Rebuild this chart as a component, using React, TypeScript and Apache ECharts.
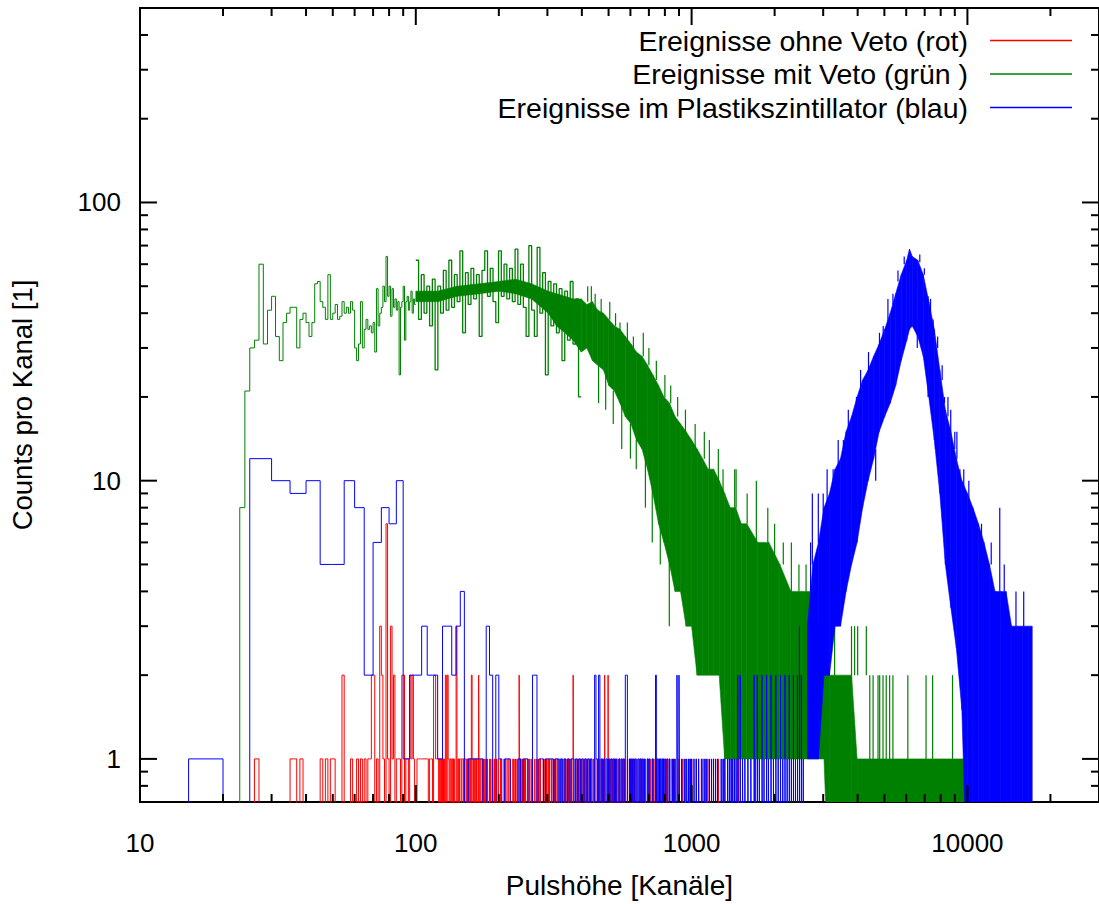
import React, { useEffect, useRef } from "react";
import * as echarts from "echarts";

const FONT = "'Liberation Sans', Arial, Helvetica, sans-serif";
const RED = "#ff0000";
const GREEN = "#008000";
const BLUE = "#0000ff";

const X_MIN = 10;
const X_MAX = 30000;
const Y_MIN = 0.7;
const Y_MAX = 500;
const BELOW = 0.3; // zero counts are drawn below the axis and clipped

const seriesNames = [
  "Ereignisse ohne Veto (rot)",
  "Ereignisse mit Veto (grün )",
  "Ereignisse im Plastikszintillator (blau)",
];
const xAxisTitle = "Pulshöhe [Kanäle]";
const yAxisTitle = "Counts pro Kanal [1]";

const xTickLabels = [10, 100, 1000, 10000];
const yTickLabels = [1, 10, 100];
const xMajorTicks = [10, 100, 1000, 10000];
const xMinorTicks = [20, 30, 40, 50, 60, 70, 80, 90, 200, 300, 400, 500, 600, 700, 800, 900, 2000, 3000, 4000, 5000, 6000, 7000, 8000, 9000, 20000];
const yMajorTicks = [1, 10, 100];
const yMinorTicks = [0.8, 0.9, 2, 3, 4, 5, 6, 7, 8, 9, 20, 30, 40, 50, 60, 70, 80, 90, 200, 300, 400];

// ---- red: events without veto, 1-channel bins: [channel, count] (empty channels omitted)
const redBins = [
  [26, 1], [35, 1], [36, 1], [38, 1], [45, 1], [47, 1], [49, 1], [50, 1], [54, 2], [58, 1], [61, 1], [63, 1], [65, 1], [67, 1], [68, 1],
  [69, 2], [70, 2], [72, 1], [74, 3], [75, 2], [76, 1], [78, 7], [79, 1], [81, 3], [82, 1], [83, 2], [85, 1], [86, 1], [87, 1], [89, 2],
  [90, 2], [92, 1], [93, 1], [95, 2], [96, 1], [97, 2], [98, 1], [101, 1], [102, 1], [103, 1], [104, 1], [105, 1], [106, 1], [107, 1],
  [108, 1], [109, 1], [110, 1], [112, 1], [113, 1], [114, 1], [116, 2], [117, 2], [118, 1], [119, 1], [120, 1], [122, 1], [124, 1],
  [126, 1], [128, 2], [130, 2], [131, 1], [133, 1], [135, 1], [137, 1], [140, 3], [142, 1], [144, 1], [145, 1], [147, 1], [148, 1],
  [150, 1], [151, 1], [153, 1], [155, 1], [157, 1], [159, 2], [160, 1], [162, 1], [164, 1], [166, 1], [167, 1], [169, 2], [171, 1],
  [174, 1], [176, 1], [178, 1], [180, 1], [182, 1], [185, 1], [187, 1], [190, 1], [193, 1], [196, 1], [199, 1], [203, 1], [209, 1],
  [212, 1], [216, 1], [220, 1], [225, 1], [227, 1], [230, 1], [233, 1], [237, 2], [240, 1], [243, 1], [245, 1], [248, 1], [250, 1],
  [255, 1], [258, 1], [262, 1], [265, 1], [270, 1], [275, 1], [278, 1], [283, 1], [290, 1], [294, 1], [298, 1], [302, 1], [305, 1],
  [310, 1], [315, 1], [318, 1], [322, 1], [327, 1], [332, 1], [338, 1], [345, 1], [350, 1], [358, 1], [362, 1], [367, 1], [372, 2],
  [380, 1], [385, 1], [390, 1], [395, 1], [400, 1], [408, 1], [414, 1], [420, 1], [426, 1], [431, 1], [440, 1], [446, 1], [455, 1],
  [462, 1], [470, 1], [478, 1], [484, 2], [498, 2], [505, 1], [510, 1], [518, 1], [525, 1], [532, 1], [541, 1], [548, 1], [560, 1],
  [570, 1], [585, 1], [595, 1], [602, 1], [610, 1], [620, 1], [635, 1], [650, 1], [660, 1], [680, 1], [695, 1], [707, 1], [720, 1],
  [730, 1], [745, 1], [766, 1], [790, 1], [810, 1], [830, 1], [852, 1], [870, 1], [900, 1], [924, 1], [950, 1], [980, 1], [1001, 1],
  [1040, 1], [1060, 1], [1085, 1], [1120, 1], [1145, 1], [1200, 1], [1250, 1], [1309, 1], [1400, 1], [1480, 1],
];

// ---- green: events with veto
const greenFirstChannel = 23; // single channels 23..99
const greenCounts = [8, 21, 30, 32, 60, 31, 41, 46, 33, 27, 37, 40, 42, 42, 30, 38, 40, 37, 33, 37, 51, 52, 44, 42, 38, 55, 38, 40, 43, 38, 39, 44, 40, 42, 40, 44, 41, 30, 27, 31, 44, 30, 35, 38, 35, 36, 34, 37, 29, 49, 36, 40, 42, 50, 44, 64, 46, 50, 39, 49, 42, 45, 41, 44, 24, 42, 44, 50, 32, 44, 46, 41, 44, 48, 40, 45, 43];
// channels 100..398: counts read every 0.01 decade
const greenMidStart = 100;
const greenMidStepDecades = 0.01;
const greenMidCounts = [62, 38, 55, 40, 50, 36, 53, 25, 50, 40, 57, 41, 62, 42, 55, 44, 67, 34, 56, 43, 58, 45, 55, 33, 57, 67, 46, 58, 44, 37, 67, 46, 60, 45, 58, 44, 68, 43, 60, 42, 33, 70, 41, 33, 69, 40, 56, 24, 52, 36, 51, 34, 49, 27, 48, 32, 52, 31, 45, 20];
// dense part: count range (low..high) at sample channels
const greenBandChannels = [100, 120, 141, 170, 200, 230, 263, 302, 324, 347, 372, 398, 417, 437, 457, 479, 501, 525, 550, 575, 603, 631, 661, 692, 724, 759, 794, 832, 871, 912, 955, 1000, 1047, 1096, 1148, 1202, 1259, 1318, 1380, 1445, 1514, 1585, 1738, 1905, 2089, 2291, 2512, 2754, 2884, 3020, 3162, 3802, 3981, 9880];
const greenBandHigh = [48, 48, 50, 51, 52, 53, 51, 48, 47, 46, 45, 45, 43, 44, 41, 40, 38, 36, 35, 33, 31, 29, 28, 26, 24, 22, 20, 19, 17, 16, 15, 14, 13, 12, 11, 11, 10, 9, 8, 8, 7, 7, 6, 6, 5, 4, 4, 4, 3, 3, 2, 2, 1, 1];
const greenBandLow = [44, 44, 46, 47, 48, 47, 45, 40, 36, 34, 32, 29, 30, 27, 26, 25, 22, 21, 19, 17, 16, 14, 13, 11, 9, 7, 6, 5, 4, 4, 3, 3, 2, 2, 2, 2, 2, 1, 1, 1, 1, 1, 1, 1, 1, 1, 1, 1, 1, 1, 0, 0, 0, 0];
// single channels sticking out of the dense part: [channel, top, bottom]
const greenSpikes = [
  [420, 50, 44], [433, 50, 43], [447, 47, 42], [460, 26, 19], [470, 45, 40], [488, 24, 18], [505, 44, 38], [520, 21, 16],
  [530, 40, 36], [550, 37, 34], [558, 19, 13], [585, 37, 32], [600, 16, 12], [615, 33, 30], [630, 14, 11], [668, 34, 28],
  [680, 12, 8], [700, 30, 26], [720, 10, 6], [745, 27, 23], [770, 8, 5], [800, 24, 20], [830, 6, 3], [840, 22, 19],
  [890, 20, 17], [950, 18, 15], [1030, 16, 13], [1112, 15, 12], [1160, 14, 11], [1250, 13, 10], [1300, 11, 9], [1433, 11, 8],
  [1450, 11, 8], [1590, 9, 7], [1717, 10, 6], [1889, 8, 6], [2000, 7, 5], [2150, 6, 5], [2300, 6, 4], [2450, 5, 4],
  [2600, 5, 4], [2700, 4, 3], [2900, 4, 3], [3100, 3, 2], [3300, 3, 2], [3800, 3, 2], [3900, 3, 2], [4000, 3, 2],
  [4300, 3, 2], [4426, 2, 1], [4550, 2, 1], [4742, 2, 1], [4808, 2, 1], [4943, 2, 1], [5078, 2, 1], [5224, 2, 1],
  [5370, 2, 1], [6081, 2, 1], [7080, 2, 1], [7480, 2, 1], [8830, 2, 1],
];

// ---- blue: plastic scintillator, 5-channel bins: [first channel, count] (empty bins omitted)
const blueBinWidth = 5;
const blueBins = [
  [15, 1], [25, 12], [30, 10], [35, 9], [40, 10], [45, 5], [50, 5], [55, 10], [60, 8], [65, 2], [70, 6], [75, 8], [80, 7], [85, 10],
  [90, 1], [95, 2], [100, 2], [105, 3], [110, 2], [115, 2], [120, 1], [125, 3], [130, 3], [135, 2], [140, 3], [145, 4], [155, 1],
  [160, 1], [165, 1], [170, 1], [180, 3], [185, 2], [195, 2], [200, 1], [210, 1], [215, 1], [235, 1], [245, 1], [250, 1], [265, 2],
  [270, 2], [280, 1], [285, 1], [295, 1], [300, 1], [305, 1], [310, 1], [320, 1], [325, 1], [335, 1], [345, 1], [355, 1], [365, 1],
  [370, 1], [380, 1], [390, 1], [400, 1], [410, 1], [420, 1], [430, 1], [445, 2], [450, 1], [460, 2], [470, 1], [480, 1], [490, 1],
  [500, 1], [510, 1], [520, 1], [530, 1], [545, 1], [555, 1], [565, 1], [575, 2], [580, 2], [595, 1], [605, 1], [615, 1], [625, 1],
  [640, 1], [650, 1], [660, 1], [670, 1], [690, 1], [700, 1], [720, 1], [740, 2], [750, 1], [760, 1], [770, 1], [780, 1], [790, 1],
  [800, 1], [815, 1], [830, 1], [850, 1], [860, 1], [870, 1], [885, 2], [900, 2], [920, 1], [940, 1], [960, 1], [975, 1], [990, 1],
  [1000, 1], [1020, 1], [1040, 1], [1060, 1], [1090, 1], [1110, 1], [1130, 1], [1160, 1], [1180, 1], [1200, 1], [1220, 1],
  [1240, 1], [1280, 1], [1300, 1], [1320, 1], [1350, 1], [1370, 1], [1390, 1], [1410, 1], [1430, 1], [1450, 1], [1470, 2],
  [1500, 2], [1530, 1], [1560, 1], [1600, 1], [1640, 1], [1685, 2], [1700, 1], [1730, 2], [1760, 1], [1800, 2], [1830, 1],
  [1870, 2], [1900, 1], [1940, 2], [1980, 1], [2020, 2], [2060, 1], [2100, 2], [2140, 1], [2180, 2], [2220, 1], [2260, 2],
  [2300, 1], [2340, 2], [2380, 1], [2420, 2], [2460, 3], [2500, 2], [2540, 1],
];
const blueBandChannels = [2630, 2754, 2884, 3020, 3162, 3311, 3467, 3631, 3802, 3981, 4169, 4365, 4571, 4786, 5012, 5248, 5495, 5754, 6026, 6166, 6310, 6607, 6918, 7244, 7586, 7943, 8318, 8710, 9120, 9550, 10000, 10471, 10965, 11482, 12023, 12589, 13183, 13804, 14454, 15136, 15849, 16596, 17180];
const blueBandHigh = [3, 5, 6, 8, 9, 11, 12, 15, 17, 20, 23, 25, 28, 31, 35, 40, 47, 55, 62, 68, 64, 62, 55, 44, 35, 25, 18, 15, 12, 10, 9, 8, 7, 6, 5, 4, 4, 4, 3, 3, 3, 3, 3];
const blueBandLow = [1, 1, 1, 2, 2, 3, 3, 4, 5, 6, 8, 10, 12, 15, 17, 19, 22, 27, 32, 35, 36, 33, 28, 20, 14, 9, 5, 3.5, 2.5, 1.5, 0, 0, 0, 0, 0, 0, 0, 0, 0, 0, 0, 0, 0];
const blueSpikes = [
  [2700, 6, 4], [2740, 9, 5], [2880, 9, 6], [3000, 9, 7], [3100, 11, 8], [3260, 11, 9], [3400, 14, 11], [3550, 14, 12],
  [3700, 18, 15], [3960, 20, 17], [4100, 25, 21], [4380, 29, 24], [4650, 13, 10], [4800, 34, 30], [4950, 36, 33],
  [5150, 45, 37], [5370, 47, 43], [5600, 57, 52], [5900, 64, 60], [6580, 35, 30], [6720, 65, 61], [6980, 58, 55],
  [7200, 46, 20], [7350, 45, 40], [7510, 38, 35], [7660, 16, 13], [7800, 33, 30], [8100, 26, 23], [8260, 20, 19],
  [8500, 20, 17], [8700, 18, 15], [9000, 15, 13], [9160, 15, 12], [9390, 11, 10], [9700, 11, 9], [10120, 10, 8],
  [10400, 8, 7], [11250, 7, 6], [12200, 6, 5], [13100, 8, 4], [13600, 5, 4], [15000, 4, 3], [16000, 4, 3],
];

type Bin = [number, number, number];

function histLine(bins: Bin[], dropStart: boolean, dropEnd: boolean): number[][] {
  const pts: number[][] = [];
  let prevEnd: number | null = null;
  for (const [s, e, c] of bins) {
    const v = c > 0 ? c : BELOW;
    if (prevEnd === null) {
      if (dropStart) pts.push([s, BELOW]);
    } else if (Math.abs(prevEnd - s) > 1e-6) {
      pts.push([prevEnd, BELOW], [s, BELOW]);
    }
    pts.push([s, v], [e, v]);
    prevEnd = e;
  }
  if (dropEnd && prevEnd !== null) pts.push([prevEnd, BELOW]);
  return pts;
}

function bandData(ch: number[], low: number[], high: number[]) {
  const lo = low.map((v) => (v > 0 ? v : BELOW));
  const out: number[][] = [];
  for (let i = 0; i < ch.length - 1; i++) {
    out.push([ch[i], lo[i], high[i], ch[i + 1], lo[i + 1], high[i + 1]]);
  }
  return out;
}

function bandSeries(name: string, color: string, data: number[][], z: number) {
  return {
    name,
    type: "custom",
    clip: true,
    z,
    silent: true,
    encode: { x: [0, 3], y: [1, 2, 4, 5] },
    data,
    renderItem: (params: any, api: any) => {
      const a = api.coord([api.value(0), api.value(2)]);
      const b = api.coord([api.value(3), api.value(5)]);
      const c = api.coord([api.value(3), api.value(4)]);
      const d = api.coord([api.value(0), api.value(1)]);
      return {
        type: "polygon",
        shape: { points: [a, b, c, d] },
        style: { fill: color, stroke: color, lineWidth: 0.6 },
      };
    },
  };
}

function spikeSeries(name: string, color: string, data: number[][], z: number) {
  return {
    name,
    type: "custom",
    clip: true,
    z,
    silent: true,
    encode: { x: 0, y: [1, 2] },
    data,
    renderItem: (params: any, api: any) => {
      const a = api.coord([api.value(0), api.value(1)]);
      const b = api.coord([api.value(0), api.value(2)]);
      return {
        type: "line",
        shape: { x1: a[0], y1: a[1], x2: b[0], y2: b[1] },
        style: { stroke: color, lineWidth: 1.2 },
      };
    },
  };
}

function stepSeries(name: string, color: string, data: number[][], z: number, width = 1) {
  return {
    name,
    type: "line",
    data,
    z,
    clip: true,
    silent: true,
    showSymbol: false,
    symbol: "none",
    lineStyle: { color, width },
    itemStyle: { color },
  };
}

export default function App() {
  const ref = useRef<HTMLDivElement>(null);

  useEffect(() => {
    if (!ref.current) return;
    const chart = echarts.init(ref.current, undefined, { renderer: "svg" });

    const redHist: Bin[] = redBins.map(([c, n]) => [c, c + 1, n]);
    const greenLow: Bin[] = greenCounts.map((v, i) => [greenFirstChannel + i, greenFirstChannel + i + 1, v]);
    const greenMid: Bin[] = greenMidCounts.map((v, i) => [
      greenMidStart * Math.pow(10, i * greenMidStepDecades),
      greenMidStart * Math.pow(10, (i + 1) * greenMidStepDecades),
      v,
    ]);
    const blueHist: Bin[] = blueBins.map(([s, n]) => [s, s + blueBinWidth, n]);

    const tickData: number[][] = [
      ...xMajorTicks.map((v) => [v, Y_MIN, 0, 1]),
      ...xMinorTicks.map((v) => [v, Y_MIN, 0, 0]),
      ...yMajorTicks.map((v) => [X_MIN, v, 1, 1]),
      ...yMinorTicks.map((v) => [X_MIN, v, 1, 0]),
    ];
    const labelData: number[][] = [
      ...xTickLabels.map((v) => [v, Y_MIN, 0]),
      ...yTickLabels.map((v) => [X_MIN, v, 1]),
    ];

    const option: any = {
      animation: false,
      backgroundColor: "#ffffff",
      grid: {
        left: 139,
        top: 8,
        width: 965,
        height: 794,
        show: true,
        borderColor: "#000",
        borderWidth: 2,
        backgroundColor: "transparent",
        containLabel: false,
      },
      legend: {
        orient: "vertical",
        right: 22,
        top: 21,
        align: "right",
        itemWidth: 82,
        itemHeight: 1.5,
        itemGap: 4.5,
        icon: "rect",
        selectedMode: false,
        textStyle: { fontSize: 28.5, fontFamily: FONT, color: "#000", padding: [0, 17, 0, 0] },
        data: [
          { name: seriesNames[0], itemStyle: { color: RED } },
          { name: seriesNames[1], itemStyle: { color: GREEN } },
          { name: seriesNames[2], itemStyle: { color: BLUE } },
        ],
      },
      xAxis: {
        type: "log",
        logBase: 10,
        min: X_MIN,
        max: X_MAX,
        name: xAxisTitle,
        nameLocation: "middle",
        nameGap: 69,
        nameTextStyle: { fontSize: 28, fontFamily: FONT, color: "#000" },
        axisLine: { show: false },
        axisTick: { show: false },
        axisLabel: { show: false },
        splitLine: { show: false },
      },
      yAxis: {
        type: "log",
        logBase: 10,
        min: Y_MIN,
        max: Y_MAX,
        name: yAxisTitle,
        nameLocation: "middle",
        nameGap: 104,
        nameTextStyle: { fontSize: 27.5, fontFamily: FONT, color: "#000" },
        axisLine: { show: false },
        axisTick: { show: false },
        axisLabel: { show: false },
        splitLine: { show: false },
      },
      series: [
        stepSeries(seriesNames[0], RED, histLine(redHist, true, true), 2),
        stepSeries(seriesNames[1], GREEN, histLine(greenLow, true, false), 3, 1),
        stepSeries(seriesNames[1], GREEN, histLine(greenMid, false, false), 3, 1.3),
        bandSeries(seriesNames[1], GREEN, bandData(greenBandChannels, greenBandLow, greenBandHigh), 3),
        spikeSeries(seriesNames[1], GREEN, greenSpikes, 3),
        stepSeries(seriesNames[2], BLUE, histLine(blueHist, true, true), 4),
        bandSeries(seriesNames[2], BLUE, bandData(blueBandChannels, blueBandLow, blueBandHigh), 4),
        spikeSeries(seriesNames[2], BLUE, blueSpikes, 4),
        {
          type: "custom",
          z: 10,
          silent: true,
          encode: { x: 0, y: 1 },
          data: tickData,
          renderItem: (params: any, api: any) => {
            const kind = api.value(2);
            const len = api.value(3) ? 17 : 8;
            const st = { stroke: "#000", lineWidth: 2 };
            if (kind === 0) {
              const v = api.value(0);
              const b = api.coord([v, Y_MIN]);
              const t = api.coord([v, Y_MAX]);
              return {
                type: "group",
                children: [
                  { type: "line", shape: { x1: b[0], y1: b[1], x2: b[0], y2: b[1] - len }, style: st },
                  { type: "line", shape: { x1: t[0], y1: t[1], x2: t[0], y2: t[1] + len }, style: st },
                ],
              };
            }
            const v = api.value(1);
            const l = api.coord([X_MIN, v]);
            const r = api.coord([X_MAX, v]);
            return {
              type: "group",
              children: [
                { type: "line", shape: { x1: l[0], y1: l[1], x2: l[0] + len, y2: l[1] }, style: st },
                { type: "line", shape: { x1: r[0], y1: r[1], x2: r[0] - len, y2: r[1] }, style: st },
              ],
            };
          },
        },
        {
          type: "custom",
          z: 10,
          silent: true,
          encode: { x: 0, y: 1 },
          data: labelData,
          renderItem: (params: any, api: any) => {
            const kind = api.value(2);
            if (kind === 0) {
              const v = api.value(0);
              const p = api.coord([v, Y_MIN]);
              return {
                type: "text",
                x: p[0],
                y: p[1] + 41,
                style: { text: String(v), fill: "#000", fontSize: 26, fontFamily: FONT, align: "center", verticalAlign: "middle" },
              };
            }
            const v = api.value(1);
            const p = api.coord([X_MIN, v]);
            return {
              type: "text",
              x: p[0] - 19,
              y: p[1],
              style: { text: String(v), fill: "#000", fontSize: 26, fontFamily: FONT, align: "right", verticalAlign: "middle" },
            };
          },
        },
      ],
    };

    chart.setOption(option);
    return () => chart.dispose();
  }, []);

  return (
    <div
      ref={ref}
      style={{ position: "absolute", left: 0, top: 0, width: 1099, height: 904, background: "#fff" }}
    />
  );
}
